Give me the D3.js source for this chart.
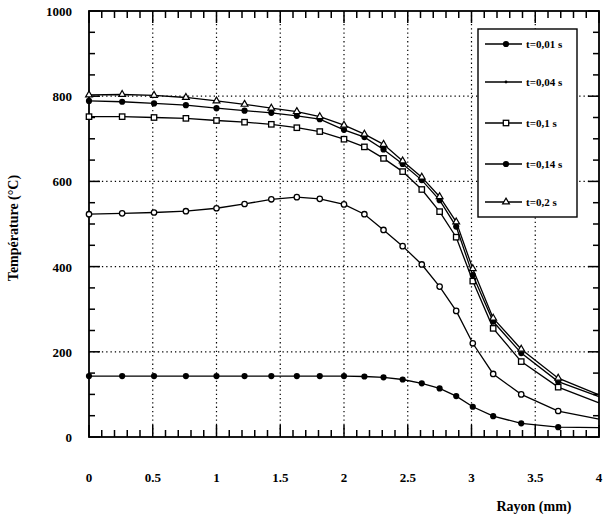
<!DOCTYPE html>
<html>
<head>
<meta charset="utf-8">
<script src="https://cdn.jsdelivr.net/npm/d3@7"></script>
<style>
  body { margin: 0; background: #fff; }
  text { font-family: "Liberation Serif", "DejaVu Serif", serif; font-weight: bold; fill: #000; }
</style>
</head>
<body>
<div id="chart"></div>
<script>
// rayon (mm) - maillage non uniforme
const radius = [0, 0.26, 0.51, 0.76, 1.0, 1.22, 1.43, 1.63, 1.81, 2.0, 2.16, 2.31, 2.46, 2.61, 2.75, 2.88, 3.01, 3.17, 3.39, 3.68, 4.0];

const t001 = [143, 143, 143, 143, 143, 143, 143, 143, 143, 143, 142, 140, 135, 126, 114, 96, 71, 49, 32, 23, 22];
const t004 = [523, 525, 527, 530, 537, 547, 558, 563, 559, 546, 523, 486, 448, 405, 353, 296, 220, 148, 100, 61, 42];
const t01  = [752, 752, 750, 748, 743, 739, 734, 726, 717, 699, 681, 654, 623, 581, 529, 469, 366, 255, 177, 117, 80];
const t014 = [789, 787, 783, 779, 772, 766, 761, 754, 746, 721, 704, 675, 641, 603, 556, 494, 380, 271, 197, 130, 95];
const t02  = [803, 804, 802, 797, 789, 781, 772, 764, 752, 732, 711, 687, 648, 610, 564, 505, 395, 279, 206, 138, 99];

const seriesNames = ["t=0,01 s", "t=0,04 s", "t=0,1 s", "t=0,14 s", "t=0,2 s"];
const seriesValues = [t001, t004, t01, t014, t02];
const markers = ["dot", "ring", "square", "dot", "triangle"];

const xTicks = [0, 0.5, 1, 1.5, 2, 2.5, 3, 3.5, 4];
const xTickLabels = ["0", "0.5", "1", "1.5", "2", "2.5", "3", "3.5", "4"];
const yTicks = [0, 200, 400, 600, 800, 1000];

const W = 603, H = 518;
const pLeft = 89, pRight = 599, pTop = 11, pBottom = 437;

const x = d3.scaleLinear().domain([0, 4]).range([pLeft, pRight]);
const y = d3.scaleLinear().domain([0, 1000]).range([pBottom, pTop]);

const svg = d3.select("#chart").append("svg")
    .attr("width", W)
    .attr("height", H);

// grille pointillée
svg.append("g").selectAll("line")
    .data(xTicks.filter(d => d > 0 && d < 4))
    .enter().append("line")
    .attr("x1", d => x(d)).attr("x2", d => x(d))
    .attr("y1", pTop).attr("y2", pBottom)
    .attr("stroke", "#000").attr("stroke-width", 1.2)
    .attr("stroke-dasharray", "1.3,3");

svg.append("g").selectAll("line")
    .data(yTicks.filter(d => d > 0 && d < 1000))
    .enter().append("line")
    .attr("x1", pLeft).attr("x2", pRight)
    .attr("y1", d => y(d)).attr("y2", d => y(d))
    .attr("stroke", "#000").attr("stroke-width", 1.2)
    .attr("stroke-dasharray", "1.3,3");

// cadre + graduations intérieures sur les 4 côtés
svg.append("rect")
    .attr("x", pLeft).attr("y", pTop)
    .attr("width", pRight - pLeft).attr("height", pBottom - pTop)
    .attr("fill", "none")
    .attr("stroke", "#000")
    .attr("stroke-width", 1.8);

const xMinor = d3.range(0, 41).map(i => i / 10);
const yMinor = d3.range(0, 21).map(i => i * 50);
const isMajorX = d => Math.abs(d * 2 - Math.round(d * 2)) < 1e-6;
const isMajorY = d => d % 200 === 0;

const ticks = svg.append("g")
    .attr("stroke", "#000")
    .attr("stroke-width", 1.5);

// bas et haut
ticks.selectAll(".xb")
    .data(xMinor)
    .enter().append("line")
    .attr("class", "xb")
    .attr("x1", d => x(d)).attr("x2", d => x(d))
    .attr("y1", pBottom).attr("y2", d => pBottom - (isMajorX(d) ? 12 : 7));
ticks.selectAll(".xt")
    .data(xMinor)
    .enter().append("line")
    .attr("class", "xt")
    .attr("x1", d => x(d)).attr("x2", d => x(d))
    .attr("y1", pTop).attr("y2", d => pTop + (isMajorX(d) ? 12 : 7));
// gauche et droite
ticks.selectAll(".yl")
    .data(yMinor)
    .enter().append("line")
    .attr("class", "yl")
    .attr("y1", d => y(d)).attr("y2", d => y(d))
    .attr("x1", pLeft).attr("x2", d => pLeft + (isMajorY(d) ? 11 : 6));
ticks.selectAll(".yr")
    .data(yMinor)
    .enter().append("line")
    .attr("class", "yr")
    .attr("y1", d => y(d)).attr("y2", d => y(d))
    .attr("x1", pRight).attr("x2", d => pRight - (isMajorY(d) ? 11 : 6));

// tick labels
svg.append("g").selectAll("text")
    .data(xTicks)
    .enter().append("text")
    .attr("x", d => x(d))
    .attr("y", 482)
    .attr("text-anchor", "middle")
    .style("font-size", "13px")
    .text((d, i) => xTickLabels[i]);

svg.append("g").selectAll("text")
    .data(yTicks)
    .enter().append("text")
    .attr("x", 72)
    .attr("y", d => y(d) + 5)
    .attr("text-anchor", "end")
    .style("font-size", "13px")
    .text(d => d);

// axis titles
svg.append("text")
    .attr("x", 534)
    .attr("y", 511)
    .attr("text-anchor", "middle")
    .style("font-size", "14px")
    .text("Rayon (mm)");

svg.append("text")
    .attr("transform", "translate(18,228) rotate(-90)")
    .attr("text-anchor", "middle")
    .style("font-size", "14px")
    .text("Température (°C)");

// courbes
const line = d3.line()
    .x(d => x(d[0]))
    .y(d => y(d[1]))
    .curve(d3.curveLinear);

const drawMarker = (g, type, cx, cy) => {
    if (type === "dot") {
        g.append("circle").attr("cx", cx).attr("cy", cy).attr("r", 3.1)
            .attr("fill", "#000");
    } else if (type === "ring") {
        g.append("circle").attr("cx", cx).attr("cy", cy).attr("r", 2.7)
            .attr("fill", "#fff").attr("stroke", "#000").attr("stroke-width", 1.3);
    } else if (type === "square") {
        g.append("rect").attr("x", cx - 2.7).attr("y", cy - 2.7)
            .attr("width", 5.4).attr("height", 5.4)
            .attr("fill", "#fff").attr("stroke", "#000").attr("stroke-width", 1.3);
    } else if (type === "triangle") {
        g.append("path")
            .attr("d", d3.symbol().type(d3.symbolTriangle).size(20)())
            .attr("transform", `translate(${cx},${cy})`)
            .attr("fill", "#fff").attr("stroke", "#000").attr("stroke-width", 1.2);
    }
};

seriesValues.forEach((vals, si) => {
    const pts = radius.map((r, i) => [r, vals[i]]);
    const g = svg.append("g");
    g.append("path")
        .datum(pts)
        .attr("d", line)
        .attr("fill", "none")
        .attr("stroke", "#000")
        .attr("stroke-width", 1.3);
    pts.slice(0, -1).forEach(p => drawMarker(g, markers[si], x(p[0]), y(p[1])));
});

// légende
const legend = svg.append("g");
legend.append("rect")
    .attr("x", 478).attr("y", 29)
    .attr("width", 99).attr("height", 188)
    .attr("fill", "#fff")
    .attr("stroke", "#000")
    .attr("stroke-width", 1.4);

const legendY = [44, 82, 123, 164, 202];
seriesNames.forEach((name, i) => {
    legend.append("line")
        .attr("x1", 485).attr("x2", 522)
        .attr("y1", legendY[i]).attr("y2", legendY[i])
        .attr("stroke", "#000").attr("stroke-width", 1.3);
    if (markers[i] === "ring") {
        legend.append("circle").attr("cx", 506).attr("cy", legendY[i]).attr("r", 1.4).attr("fill", "#000");
    } else {
        drawMarker(legend, markers[i], 506, legendY[i]);
    }
    legend.append("text")
        .attr("x", 526)
        .attr("y", legendY[i] + 4)
        .style("font-size", "11px")
        .text(name);
});
</script>
</body>
</html>
